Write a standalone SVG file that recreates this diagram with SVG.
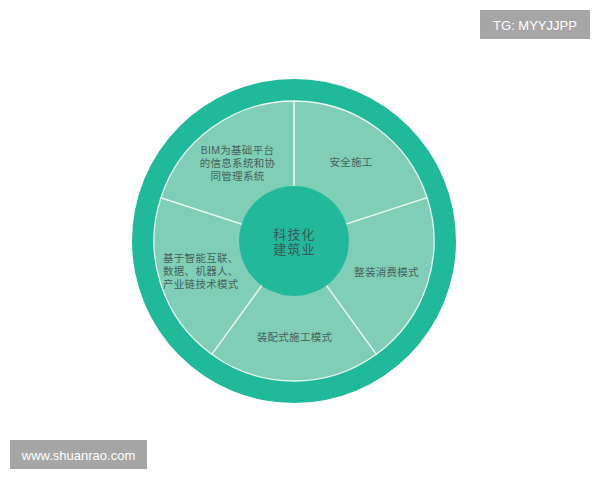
<svg xmlns="http://www.w3.org/2000/svg" width="600" height="480" viewBox="0 0 600 480">
<style>
.seg{fill:#80CEB6;stroke:#E8F7F2;stroke-width:1.3}
.lbl{font-family:"Liberation Sans","Noto Sans CJK SC",sans-serif;font-size:10.5px;letter-spacing:0.3px;fill:#45625C}
.mid{font-family:"Liberation Sans","Noto Sans CJK SC",sans-serif;font-size:13px;letter-spacing:1.2px;fill:#3A5A53;text-anchor:middle}
.wm{fill:#A6A6A6}
.wmt{font-family:"Liberation Sans","DejaVu Sans",sans-serif;font-size:13px;fill:#FFFFFF;text-anchor:middle}
</style>
<rect width="600" height="480" fill="#FFFFFF"/>
<g id="outer-ring"><circle cx="294" cy="241" r="162" fill="#20B99A"/></g>
<g id="seg-safety">
<path class="seg" d="M294 101 A140 140 0 0 1 427.15 197.74 L345.36 224.31 A54 54 0 0 0 294 187 Z"/>
<text class="lbl" x="351" y="166" text-anchor="middle">安全施工</text>
</g>
<g id="seg-consume">
<path class="seg" d="M427.15 197.74 A140 140 0 0 1 376.29 354.26 L325.74 284.69 A54 54 0 0 0 345.36 224.31 Z"/>
<text class="lbl" x="386.5" y="276" text-anchor="middle">整装消费模式</text>
</g>
<g id="seg-prefab">
<path class="seg" d="M376.29 354.26 A140 140 0 0 1 211.71 354.26 L262.26 284.69 A54 54 0 0 0 325.74 284.69 Z"/>
<text class="lbl" x="294.5" y="341" text-anchor="middle">装配式施工模式</text>
</g>
<g id="seg-smart">
<path class="seg" d="M211.71 354.26 A140 140 0 0 1 160.85 197.74 L242.64 224.31 A54 54 0 0 0 262.26 284.69 Z"/>
<text class="lbl" x="163" y="261.5">基于智能互联、</text>
<text class="lbl" x="163" y="274.5">数据、机器人、</text>
<text class="lbl" x="163" y="287.5">产业链技术模式</text>
</g>
<g id="seg-bim">
<path class="seg" d="M160.85 197.74 A140 140 0 0 1 294 101 L294 187 A54 54 0 0 0 242.64 224.31 Z"/>
<text class="lbl" x="237.5" y="153.5" text-anchor="middle">BIM为基础平台</text>
<text class="lbl" x="237.5" y="166.5" text-anchor="middle">的信息系统和协</text>
<text class="lbl" x="237.5" y="179.5" text-anchor="middle">同管理系统</text>
</g>
<g id="center">
<circle cx="294" cy="241" r="55" fill="#22B99B"/>
<text class="mid" x="294.5" y="238.5">科技化</text>
<text class="mid" x="294.5" y="254">建筑业</text>
</g>
<g id="connectors"></g>
<g id="wm-top">
<rect class="wm" x="480" y="10" width="110" height="29"/>
<text class="wmt" x="535" y="29.5">TG: MYYJJPP</text>
</g>
<g id="wm-bottom">
<rect class="wm" x="10" y="440" width="137" height="29"/>
<text class="wmt" x="78.5" y="459.5">www.shuanrao.com</text>
</g>
</svg>
